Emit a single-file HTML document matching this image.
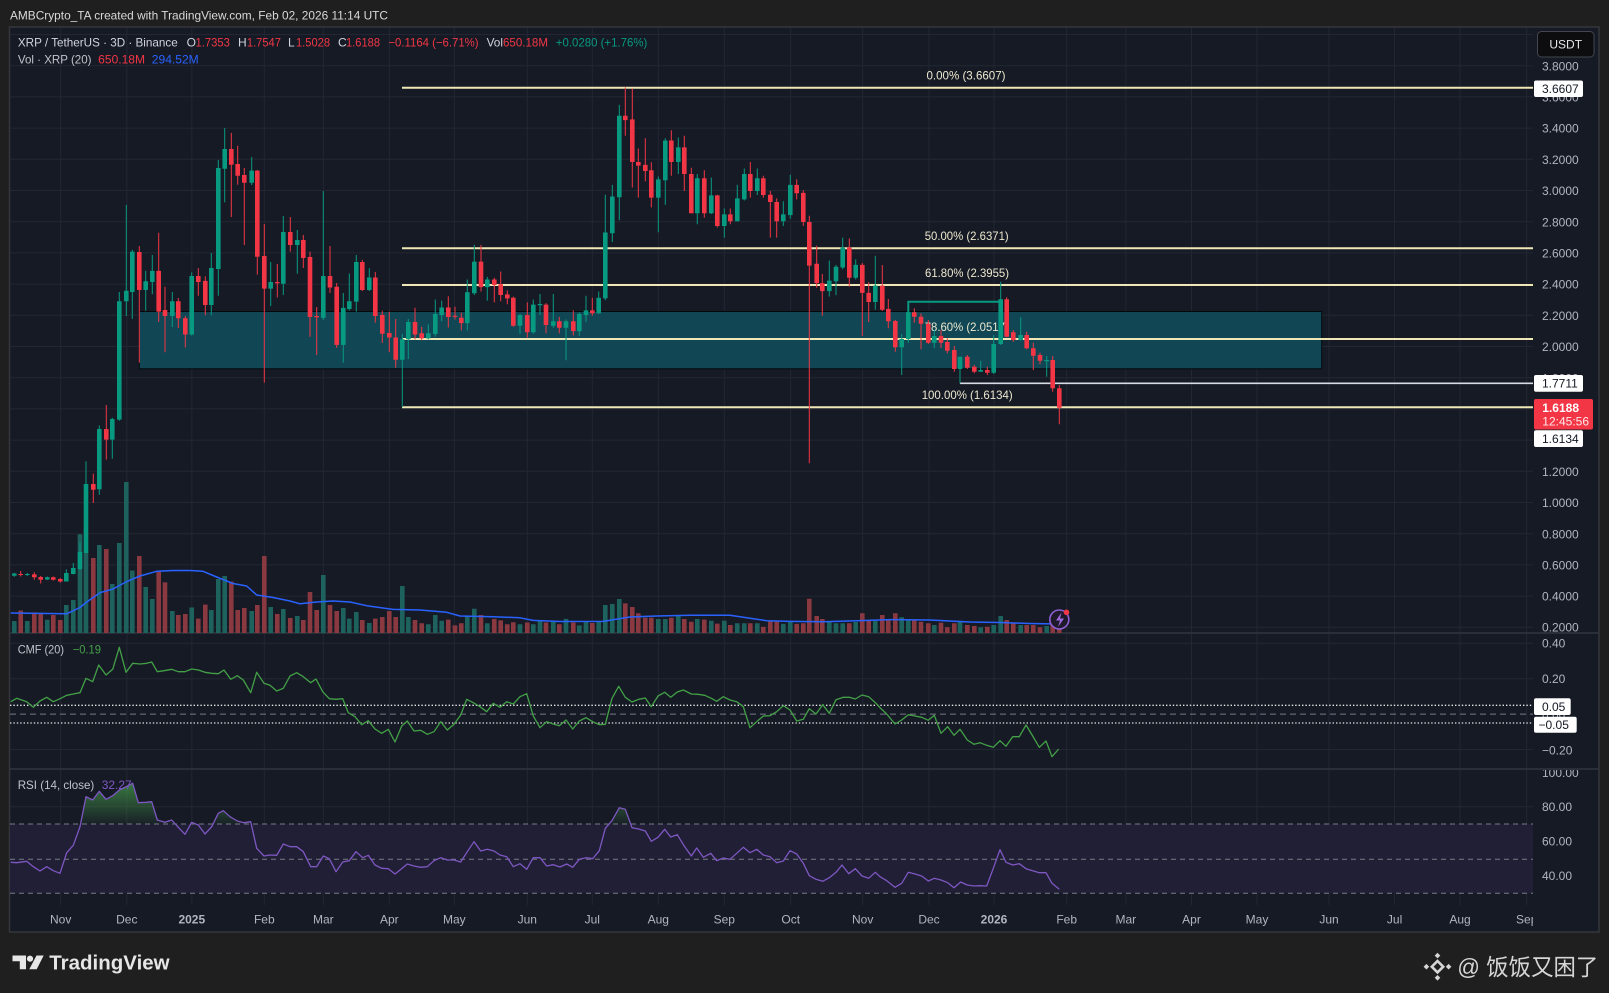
<!DOCTYPE html>
<html><head><meta charset="utf-8"><style>html,body{margin:0;padding:0;background:#1f1f1f;}svg{display:block;}</style></head>
<body>
<svg width="1609" height="993" viewBox="0 0 1609 993" xmlns="http://www.w3.org/2000/svg" font-family="'Liberation Sans', sans-serif">
<defs>
<clipPath id="plot"><rect x="10" y="28" width="1523" height="877"/></clipPath>
<clipPath id="rsiTop"><rect x="10" y="769" width="1523" height="55"/></clipPath>
<clipPath id="xax"><rect x="10" y="905" width="1523" height="27"/></clipPath>
<clipPath id="rsiAx"><rect x="1534" y="770" width="70" height="135"/></clipPath>
<linearGradient id="rsiG" gradientUnits="userSpaceOnUse" x1="0" y1="775" x2="0" y2="824">
<stop offset="0" stop-color="#4caf50" stop-opacity="0.75"/><stop offset="1" stop-color="#4caf50" stop-opacity="0.05"/></linearGradient>
</defs>
<rect width="1609" height="993" fill="#1f1f1f"/>
<text x="10" y="19.3" font-size="12" fill="#d9d9d9" textLength="378" lengthAdjust="spacingAndGlyphs">AMBCrypto_TA created with TradingView.com, Feb 02, 2026 11:14 UTC</text>
<rect x="9.5" y="27" width="1589.5" height="905" fill="#161a25" stroke="#34363c" stroke-width="1.5"/>

<!-- grid -->
<g stroke="#232733" stroke-width="1">
<path d="M10 34.5H1533M10 65.7H1533M10 96.9H1533M10 128.1H1533M10 159.3H1533M10 190.5H1533M10 221.7H1533M10 252.9H1533M10 284.1H1533M10 315.3H1533M10 346.5H1533M10 377.7H1533M10 408.9H1533M10 440.1H1533M10 471.3H1533M10 502.5H1533M10 533.7H1533M10 564.9H1533M10 596.1H1533M10 627.3H1533"/>
<path d="M10 643.3H1533M10 678.7H1533M10 749.5H1533M10 806.8H1533M10 841.2H1533M10 875.8H1533"/>
<path d="M60.7 28V905M126.8 28V905M191.8 28V905M264.3 28V905M323.3 28V905M389.3 28V905M454.3 28V905M527.3 28V905M592.3 28V905M658.3 28V905M724.3 28V905M790.7 28V905M862.7 28V905M929 28V905M994 28V905M1066.7 28V905M1125.8 28V905M1191.5 28V905M1257 28V905M1329 28V905M1394.6 28V905M1460 28V905M1526.7 28V905"/>
</g>
<!-- pane separators -->
<path d="M10 633H1598M10 769H1598" stroke="#30343f" stroke-width="1.5"/>

<!-- RSI band -->
<rect x="10" y="824" width="1523" height="69.3" fill="#201f35"/>
<g stroke="#787b86" stroke-width="1" stroke-dasharray="5 4">
<path d="M10 824H1533M10 859.3H1533M10 893.3H1533"/>
</g>
<!-- CMF levels -->
<path d="M10 714.1H1533" stroke="#787b86" stroke-width="1" stroke-dasharray="6 4"/>
<path d="M10 705.3H1533M10 723H1533" stroke="#e6e6e6" stroke-width="1.3" stroke-dasharray="1.4 2"/>

<g clip-path="url(#plot)">
<!-- zone box -->
<rect x="139.3" y="311.5" width="1182.4" height="57.3" fill="#114755" stroke="#05090c" stroke-width="1"/>
<!-- fib lines -->
<g stroke="#efe7b5" stroke-width="2">
<path d="M402 87.7H1533M402 248.2H1533M402 285H1533M402 339H1533M402 407.2H1533"/>
</g>
<path d="M960 383.3H1533" stroke="#d8dce4" stroke-width="1.6"/>
<path d="M960 383.3V370" stroke="#d8dce4" stroke-width="1"/>
<g font-size="12" fill="#ece8cf" text-anchor="middle">
<text x="966" y="79.3" textLength="79" lengthAdjust="spacingAndGlyphs">0.00% (3.6607)</text>
<text x="966.7" y="240" textLength="84" lengthAdjust="spacingAndGlyphs">50.00% (2.6371)</text>
<text x="967" y="277" textLength="84" lengthAdjust="spacingAndGlyphs">61.80% (2.3955)</text>
<text x="966.7" y="331" textLength="84" lengthAdjust="spacingAndGlyphs">78.60% (2.0517)</text>
<text x="967.2" y="399" textLength="91" lengthAdjust="spacingAndGlyphs">100.00% (1.6134)</text>
</g>
<polyline points="908.3,312.7 908.3,301.7 1000.7,301.7" fill="none" stroke="#089981" stroke-width="2"/>

<!-- volume -->
<path fill="none" stroke="#1e625e" stroke-width="4.6" d="M14.3 621V633M27.3 621V633M47.3 619.7V633M66.3 605V633M73.3 600V633M80 534.3V633M86 553V633M99.3 545V633M112.3 584V633M119.3 543V633M126.3 482V633M132.3 570.5V633M145.7 587V633M152.3 599V633M172.3 611V633M191.7 607.5V633M211.3 610V633M218.3 579V633M224.7 576V633M251.7 611V633M270.7 607V633M283.3 609V633M297.3 616V633M323.3 575V633M343.3 608V633M349.3 618.6V633M356.3 612V633M369.3 623V633M402.3 586V633M408.3 617V633M428.3 624.3V633M435.3 615V633M441.7 620.8V633M467.3 616V633M474.3 608.7V633M487.3 623.2V633M520 624.3V633M533.3 624.3V633M540 620.8V633M553.3 620.8V633M566 618.9V633M579.3 625.4V633M586 621.5V633M598.7 622V633M605.3 605V633M612.3 604V633M619.3 599V633M658.3 619V633M665.3 619V633M678.3 616V633M697.3 619V633M711.3 620.7V633M724.3 620.7V633M737.3 623.2V633M744.3 623.2V633M757.3 623.2V633M783.3 623.9V633M790.3 621.4V633M829.3 621.4V633M836 623.2V633M842.7 623.2V633M855.7 622V633M875.3 621V633M901.7 617.3V633M908.3 620V633M934.3 625V633M960 621.7V633M980.7 627.3V633M993.7 625V633M1000.7 616V633M1020.7 625V633M1046.7 626V633"/>
<path fill="none" stroke="#8a3940" stroke-width="4.6" d="M20.7 610.5V633M34.3 612.4V633M40.7 613.8V633M53.3 615V633M60.3 620V633M93.3 558V633M106.3 549V633M139.3 556V633M158.7 570.5V633M165 582.4V633M178.3 615V633M185.3 614V633M198.3 618.6V633M205.3 604.6V633M231.3 581.6V633M237.7 610V633M244.3 608V633M257.3 605V633M264.3 556V633M277.3 614V633M290.3 618V633M303.3 620V633M310 592V633M316.7 610V633M330 605V633M336.7 611V633M362.3 620V633M375.3 618.6V633M382.3 617V633M389.3 611V633M395.7 617V633M415 620V633M421.7 623.2V633M448.3 619.6V633M455 625.4V633M461.3 623.2V633M481 615V633M494.3 618.9V633M500.7 620.4V633M507.3 624.3V633M513.3 622.2V633M527.3 622.5V633M546 622.5V633M559.3 624.3V633M573.3 622.5V633M592.3 623V633M625.3 603.4V633M632.3 607V633M638.3 613.3V633M645.3 617.8V633M651.3 617.8V633M671.3 617.8V633M684.3 619V633M691.3 621.8V633M704.3 619.6V633M717.3 623.6V633M730.3 625V633M750.3 623.2V633M763.3 626.9V633M770.3 621.4V633M776.7 621.4V633M796.7 623.9V633M803.3 623.2V633M809.3 598.8V633M816.7 616V633M822.3 619V633M849.3 623.2V633M862.3 613.3V633M868.7 620.5V633M882.3 615V633M888.3 620V633M895.3 613.3V633M914.3 620V633M921 621.7V633M928.3 623.3V633M941 622.7V633M947.3 627.3V633M954.3 623.3V633M967.3 625V633M974.3 626V633M987.3 626.7V633M1006.7 620V633M1013.3 623.3V633M1026.7 625V633M1033.3 625V633M1040 627.3V633M1052.7 624.3V633M1059.3 622.7V633"/>
<polyline fill="none" stroke="#2962ff" stroke-width="1.5" stroke-linejoin="round" points="10.7,613 66.7,613.8 80,607.5 86.7,602 100,592.7 113,589 126.7,581.6 140,576 156.7,571.3 173,570.5 190,570.5 203,571.3 216.7,577 233,583.5 246.7,586 256.7,595 273,597.5 290,601 300,603.8 316.7,602 333,601 350,602 366.7,605.7 393,609.4 420,610 446.7,612.3 460,616 493,616.7 520,617.8 533,620.4 560,621.5 603,621.4 630,617 656.7,616 690,615.3 730,615.3 746.7,617.8 766.7,620.7 790,621.4 823.3,621.8 856.7,620.7 890,619.6 930,620 970,622 1000,622.5 1030,623.5 1059,624"/>

<!-- candles -->
<path fill="none" stroke="#089981" stroke-width="1" d="M14.3 572.8V576.8M27.3 573V576M47.3 576.5V580M66.3 569.4V581.5M73.3 563V574.4M80 542.8V569.8M86 461.4V553M99.3 425.5V494.7M112.3 417.7V458.8M119.3 292V420.7M126.3 205V316M132.3 249.8V319M145.7 270.9V310.8M152.3 255V294.2M172.3 292V327M191.7 272.4V335.6M211.3 253V315.3M218.3 160V295.7M224.7 128V202.4M251.7 157V185M270.7 262V306M283.3 216V295M297.3 230V273.8M323.3 191V320M343.3 293V362.6M349.3 273.5V310.5M356.3 255V311.6M369.3 268.3V291M402.3 333.8V407M408.3 319V359M428.3 324.2V339.5M435.3 299.5V336.6M441.7 300.6V321.3M467.3 279.5V330.4M474.3 244.9V295M487.3 276.9V300.6M520 314V333.7M533.3 299.5V333.7M540 294V315M553.3 294V327.8M566 319.5V360.2M579.3 312.2V335.9M586 295.8V322M598.7 291.5V314M605.3 194.7V300.2M612.3 184.9V242M619.3 104.9V220.2M658.3 176.5V232.2M665.3 138.3V204.9M678.3 137.5V174M697.3 174V224.2M711.3 177.5V214M724.3 208.5V237.6M737.3 184.9V221.3M744.3 168.5V200.5M757.3 168.5V195M783.3 201.3V226M790.3 174.7V218.7M829.3 260.6V296.6M836 264.9V295.2M842.7 237.6V269.3M855.7 259.4V279.5M875.3 255.8V309.7M901.7 334V375M908.3 302.3V342.7M934.3 330V348M960 356.7V383.3M980.7 360.7V371.7M993.7 335V374M1000.7 281.7V345M1020.7 317.3V340.7M1046.7 356V376.7"/>
<path fill="none" stroke="#089981" stroke-width="4.6" d="M14.3 573.5V575.7M27.3 574V575M47.3 577.2V579.5M66.3 573V581.5M73.3 568V574M80 552V569M86 484V553M99.3 429V489.2M112.3 419V439.6M119.3 301.2V419.6M126.3 290.8V301.2M132.3 251.6V292M145.7 281.2V290M152.3 270.9V282M172.3 301.2V316M191.7 276V334.5M211.3 268V305M218.3 168V269M224.7 149V168.8M251.7 170.6V182.8M270.7 282V288.6M283.3 232V283.8M297.3 240V245M323.3 276V317.9M343.3 307.9V344.9M349.3 301.2V309M356.3 262V301.6M369.3 277.5V290M402.3 339.3V359.7M408.3 322V339.3M428.3 333.3V338.4M435.3 314V334M441.7 307.5V315.1M467.3 292.2V323.1M474.3 261.6V293.3M487.3 279.5V287.1M520 315.1V325.7M533.3 304.6V332.2M540 304V305.2M553.3 321.3V325.7M566 321.3V327.8M579.3 314V331.1M586 310.4V315.1M598.7 297.7V313.3M605.3 232.5V298.4M612.3 196.5V233.3M619.3 115.8V197.3M658.3 179.4V197.6M665.3 140.5V180.2M678.3 147.4V162M697.3 178.3V213.3M711.3 195.4V213.3M724.3 214.4V226M737.3 198.4V221.3M744.3 174V199.4M757.3 178.3V191M783.3 214.4V221.3M790.3 184.9V215.1M829.3 280.6V291.1M836 266.8V281.3M842.7 247.5V267.5M855.7 264.9V277.7M875.3 285.6V302M901.7 339V347.3M908.3 312.3V339M934.3 336V342.7M960 356.7V369M980.7 370V371.7M993.7 344V372.7M1000.7 299.3V344M1020.7 335V340M1046.7 360V361.2"/>
<path fill="none" stroke="#f23645" stroke-width="1" d="M20.7 571V576.5M34.3 572.2V579.8M40.7 576V583.5M53.3 576.5V580.5M60.3 578V582.6M93.3 473.6V503M106.3 405V459.6M139.3 246V362.6M158.7 232.8V322M165 286.8V352.3M178.3 298V328M185.3 316V347.5M198.3 268V295.7M205.3 276.4V315.3M231.3 132.9V217M237.7 145.8V184.7M244.3 168V245M257.3 170V274.6M264.3 224V382.6M277.3 264V297.5M290.3 217V251.6M303.3 235V268M310 251.6V336.7M316.7 307V355M330 246V293M336.7 283V347.8M362.3 259.8V291M375.3 272V322.7M382.3 310.8V343M389.3 311.6V352.3M395.7 319V367.8M415 307.8V339.5M421.7 326.8V340.2M448.3 296.2V327.5M455 306.8V319.5M461.3 312.6V330.4M481 244.9V291.5M494.3 277.7V302.4M500.7 271.5V301.2M507.3 290.4V304.3M513.3 296.6V326.8M527.3 302.4V337.7M546 303.1V333.3M559.3 316.9V333.3M573.3 310.4V335.5M592.3 297.7V315.8M625.3 87.4V135.8M632.3 88.5V187.5M638.3 148.5V197.6M645.3 138.3V181.3M651.3 162.3V207.4M671.3 130.3V175.8M684.3 135.8V191M691.3 167.8V213.3M704.3 170.3V217.6M717.3 194.7V227.5M730.3 208.5V224.2M750.3 162V197.6M763.3 175.8V197.6M770.3 191V237.6M776.7 198.4V237.6M796.7 179.4V199.4M803.3 190.3V226M809.3 215.8V463.2M816.7 245.6V287.8M822.3 274V315.8M849.3 238.4V286.7M862.3 263.1V335.9M868.7 282V322M882.3 265V311M888.3 299V328.3M895.3 320V351.7M914.3 308.3V322.7M921 313.3V349.3M928.3 320V344M941 330V348M947.3 338.3V353.3M954.3 346V371.7M967.3 355V369M974.3 365V373.3M987.3 366.7V375M1006.7 297.3V337.3M1013.3 330V341.7M1026.7 331.7V349.3M1033.3 342.7V370M1040 352.7V364.3M1052.7 356V391.7M1059.3 385V424.3"/>
<path fill="none" stroke="#f23645" stroke-width="4.6" d="M20.7 574V575M34.3 574.4V577.2M40.7 577V579.7M53.3 577.2V579.8M60.3 579V581.5M93.3 484V489.7M106.3 429V439.6M139.3 252V290M158.7 270.9V311.6M165 310V316M178.3 301.2V318.2M185.3 318.2V334.5M198.3 276V282M205.3 280.9V305M231.3 149V164.7M237.7 164V175.8M244.3 175V182.8M257.3 170.6V256.8M264.3 256V288.6M277.3 282V283.2M290.3 232V245M303.3 240V258M310 257V317M316.7 316V317.2M330 276V287.5M336.7 286.8V344.9M362.3 262V290M375.3 277.5V316M382.3 315V333.8M389.3 333V337.5M395.7 337.5V359.7M415 322V334.5M421.7 333.3V338.4M448.3 307.5V317M455 315.7V316.9M461.3 317.7V323.1M481 261.6V287.1M494.3 279.5V285M500.7 284.2V295M507.3 294.4V298.4M513.3 297.7V325.7M527.3 315.1V332.2M546 304.6V325M559.3 321.3V327.8M573.3 321.3V331.1M592.3 310.4V313.3M625.3 115.8V120.1M632.3 119.4V162M638.3 162V165.6M645.3 164.9V171M651.3 170.3V197.6M671.3 140.5V162M684.3 147.4V174M691.3 174V213.3M704.3 178.3V213.3M717.3 195.4V226M730.3 214.4V221.3M750.3 174V191M763.3 178.3V195M770.3 194.7V202M776.7 202V221.3M796.7 184.9V193.3M803.3 192.9V222M809.3 222V265.6M816.7 263.8V283.1M822.3 283.1V291.1M849.3 247.5V277.7M862.3 264.9V292.9M868.7 292.9V302M882.3 285.6V309.7M888.3 308.9V321.3M895.3 321V347.3M914.3 312.3V316.7M921 316.7V323.7M928.3 323.7V342.7M941 336V342.7M947.3 342V350.7M954.3 350V369M967.3 356.7V367.7M974.3 366.7V371.7M987.3 370V372.7M1006.7 299.3V336.7M1013.3 332.3V340M1026.7 335V348.3M1033.3 348.3V355.7M1040 355V360.7M1052.7 360V388.3M1059.3 388.3V407.7"/>

<!-- CMF -->
<polyline fill="none" stroke="#43a047" stroke-width="1.3" stroke-linejoin="round" points="10.7,701.7 16.7,698.3 26.7,701.7 33.3,707.3 40,701 46.7,697.3 53.3,701.7 60,698.7 66.7,695.3 73.3,694 80,692.7 86,678.3 92.7,681.7 98.7,665 106,675 112.7,669.3 119.3,647.3 126,672.3 132.7,663.3 140,664 146.7,663.3 151.7,662 157.3,671.7 164,670.7 171.7,669.3 178.3,671.7 185,671.7 191.7,669 198.3,670 205,672.3 211.7,673.3 218.3,673.7 224,670 230.7,679.3 237.3,675.7 243.3,680 250.7,692.7 256.7,672.3 264,683.3 270,685.3 276.7,691 283.3,688.3 290,676 296.7,672.7 303.3,676.7 310.7,682.7 316,679 322.7,691.7 329.3,698.7 336,699.3 342.7,698.7 348.3,712.7 355,716.7 361.7,724.7 368.3,720.7 375,729 381.7,733.3 388.3,729.3 395,742 401.7,726 407.3,721 414,731 420.7,730.3 427.3,734.3 434,731.7 440.7,721.7 447.3,730 454,724.3 460.7,715 466.7,699.3 473.3,702.7 480,706.7 486.7,711.7 493.3,703.3 500,707.3 506.7,701.7 513.3,704 520,696.7 526.7,693.7 533.3,716 540,727.7 546.7,721.7 553.3,724 559.3,725.7 566,720 572.7,729 579.3,721 586,717.7 592.7,721.7 599.3,724.7 605.3,724.3 612,698.3 618.7,686.3 625.3,697.3 632,702 638.7,699.3 645.3,698 651.3,706.7 658,696 664.7,692.3 670.7,697.3 677.3,692 683.3,690 691.3,694 698,694.3 704.7,695.3 711.3,698.3 716.7,701.3 723.3,696.7 730,700 736.7,701.7 743.3,706.7 750,727.7 756.7,721.7 763.3,716 770,715.7 776.7,711.7 783.3,705.7 790,710 796.7,721 803.3,719.3 809.3,708.7 816,714 822.7,704.7 829.3,713.3 836,699.7 843.3,697.3 849.3,697.3 855.3,699 862,695 868.7,696.7 876,703.3 880,707.7 886.7,714 895,724 901.7,720 908.3,714.7 915,716 921.7,717.3 928.3,720.3 934.3,715.3 941,733.3 947.7,726.7 954,735.3 960,729.3 967.3,740 974,744.3 980,742.7 986.7,745.3 993.3,747.3 1000,740.7 1006,746.3 1012.7,736.7 1019.3,736.7 1026,725 1032.7,736 1039.3,747.3 1046,741 1052,756.7 1058.7,749"/>

<!-- RSI fill -->
<g clip-path="url(#rsiTop)">
<polygon fill="url(#rsiG)" points="10.7,862.3 16.7,862.7 26.7,861.3 33.3,866.7 40,871 46.7,866.7 53.3,870.7 60,873.3 66.7,852.7 73.3,845.3 80,826.7 86,796.7 92.7,800 99.3,791.3 106,799.3 112.7,795.7 119.3,790 126,786.7 132.7,783.3 138.3,802.7 146,802.3 151.7,801.7 157.3,820 165,822.3 171.7,820 178.3,827.3 185,834.3 191.7,822.3 198.3,825 205,834 211.7,826.7 218.3,813.3 223.3,810.7 230,816.7 237.3,821 244,822.7 250.7,821.7 256.7,848.3 600,850 605.3,828.3 612,820.7 619.3,807.7 625.3,809.3 632,827.7 640,830 640,824 10.7,824"/>
</g>
<!-- RSI -->
<polyline fill="none" stroke="#7e57c2" stroke-width="1.3" stroke-linejoin="round" points="10.7,862.3 16.7,862.7 26.7,861.3 33.3,866.7 40,871 46.7,866.7 53.3,870.7 60,873.3 66.7,852.7 73.3,845.3 80,826.7 86,796.7 92.7,800 99.3,791.3 106,799.3 112.7,795.7 119.3,790 126,786.7 132.7,783.3 138.3,802.7 146,802.3 151.7,801.7 157.3,820 165,822.3 171.7,820 178.3,827.3 185,834.3 191.7,822.3 198.3,825 205,834 211.7,826.7 218.3,813.3 223.3,810.7 230,816.7 237.3,821 244,822.7 250.7,821.7 256.7,848.3 264,856 270,855 276.7,855.3 283.3,844 290,846.7 296.7,846.7 303.3,851.7 310.7,866.7 316.7,866.7 323.3,856 329.3,858.7 336,871.7 342.7,862 349.3,860.7 356,851.7 362.7,857.7 368.3,855.3 375,865 381.7,868.3 388.3,868.7 395,874 400,870 407.3,864 414,866 420.7,867.3 427.3,866.7 434,860.7 440.7,857.7 447.3,860 454,860 460.7,862 467.3,851.7 474,841.7 480.7,851 487.3,849.3 494,851 500,855 506.7,856.7 513.3,866.7 520,863.7 526.7,869.3 533.3,857.7 540,857.7 546.7,866 553.3,864.7 560,867 566.7,864 572.7,867.3 579.3,859.3 586,857.7 592.7,858.7 599.3,850.7 605.3,828.3 612,820.7 619.3,807.7 625.3,809.3 632,827.7 638.7,829 645.3,831 651.3,841.3 658,837.3 664.7,829.3 670.7,837 677.3,834.7 684,845.7 691.3,856 696.7,848 703.3,857.3 710.7,853.3 716.7,860.7 723.3,858 730,859.3 736.7,853.3 743.3,847.3 750,852.7 756.7,849.3 763.3,855 770,856.7 776.7,862.7 783.3,861 790,850.7 796.7,854 803.3,863.3 809.3,875.7 816,879.3 822.7,881.3 829.3,877.7 836,872.3 842,865 848.7,873.7 855.3,868.7 862,876 868.7,878.3 875.3,872.3 880,876.7 886.7,880.7 895,887.3 901.7,883.3 908.3,872.3 915,874 921.7,876 928.3,881 934.3,878.3 941,880 947.7,882.7 954,887.7 960.7,882 967.3,885 974,886 980,885.7 986.7,886 993.3,868.3 1000,849.7 1006,862.3 1012.7,865 1019.3,863.7 1026,868.7 1032.7,870.7 1039.3,872.7 1046,872.7 1052,883.3 1059.3,889.3"/>

<!-- lightning icon -->
<circle cx="1059.3" cy="619.5" r="9.5" fill="#1e1a2c" stroke="#8e5fd6" stroke-width="1.6"/>
<path d="M1061.5 612.5l-5.5 8h4l-2 6.5l6-8.5h-4z" fill="#9c6ade"/>
<circle cx="1066.5" cy="612.3" r="2.8" fill="#f23645"/>
</g>

<!-- legend -->
<g font-size="12">
<text x="17.9" y="46.3" fill="#d1d4dc" textLength="159.8" lengthAdjust="spacingAndGlyphs">XRP / TetherUS · 3D · Binance</text>
<text x="186.6" y="46.3" fill="#d1d4dc">O</text><text x="195.5" y="46.3" fill="#f23645" textLength="34.4" lengthAdjust="spacingAndGlyphs">1.7353</text>
<text x="238" y="46.3" fill="#d1d4dc">H</text><text x="246.9" y="46.3" fill="#f23645" textLength="34" lengthAdjust="spacingAndGlyphs">1.7547</text>
<text x="288" y="46.3" fill="#d1d4dc">L</text><text x="296" y="46.3" fill="#f23645" textLength="34" lengthAdjust="spacingAndGlyphs">1.5028</text>
<text x="338" y="46.3" fill="#d1d4dc">C</text><text x="346" y="46.3" fill="#f23645" textLength="34" lengthAdjust="spacingAndGlyphs">1.6188</text>
<text x="388.4" y="46.3" fill="#f23645" textLength="90.2" lengthAdjust="spacingAndGlyphs">−0.1164 (−6.71%)</text>
<text x="486.6" y="46.3" fill="#d1d4dc" textLength="16.4" lengthAdjust="spacingAndGlyphs">Vol</text><text x="503" y="46.3" fill="#f23645" textLength="45" lengthAdjust="spacingAndGlyphs">650.18M</text>
<text x="555.8" y="46.3" fill="#089981" textLength="91.5" lengthAdjust="spacingAndGlyphs">+0.0280 (+1.76%)</text>
<text x="17.9" y="63.3" fill="#c0c3ca" textLength="73.6" lengthAdjust="spacingAndGlyphs">Vol · XRP (20)</text>
<text x="98.2" y="63.3" fill="#f23645" textLength="46.8" lengthAdjust="spacingAndGlyphs">650.18M</text>
<text x="151.8" y="63.3" fill="#2962ff" textLength="46.9" lengthAdjust="spacingAndGlyphs">294.52M</text>
<text x="17.7" y="653.6" fill="#c0c3ca" textLength="46.3" lengthAdjust="spacingAndGlyphs">CMF (20)</text>
<text x="72.7" y="653.6" fill="#43a047" textLength="28.3" lengthAdjust="spacingAndGlyphs">−0.19</text>
<text x="17.7" y="789" fill="#c0c3ca" textLength="76.6" lengthAdjust="spacingAndGlyphs">RSI (14, close)</text>
<text x="101.7" y="789" fill="#7e57c2" textLength="30" lengthAdjust="spacingAndGlyphs">32.27</text>
</g>

<!-- price axis -->
<g font-size="12" fill="#b2b5be">
<text x="1542" y="70.3">3.8000</text><text x="1542" y="101.5">3.6000</text><text x="1542" y="132.7">3.4000</text><text x="1542" y="163.9">3.2000</text><text x="1542" y="195.1">3.0000</text><text x="1542" y="226.3">2.8000</text><text x="1542" y="257.5">2.6000</text><text x="1542" y="288.7">2.4000</text><text x="1542" y="319.9">2.2000</text><text x="1542" y="351.1">2.0000</text><text x="1542" y="382.3">1.8000</text><text x="1542" y="413.5">1.6000</text><text x="1542" y="444.7">1.4000</text><text x="1542" y="475.9">1.2000</text><text x="1542" y="507.1">1.0000</text><text x="1542" y="538.3">0.8000</text><text x="1542" y="569.5">0.6000</text><text x="1542" y="600.7">0.4000</text><text x="1542" y="631.7">0.2000</text>
<text x="1542" y="647.6">0.40</text><text x="1542" y="683">0.20</text><text x="1542" y="718.4">0.00</text><text x="1542" y="754.3">−0.20</text>
<g clip-path="url(#rsiAx)"><text x="1542" y="777">100.00</text><text x="1542" y="811">80.00</text><text x="1542" y="845.5">60.00</text><text x="1542" y="880.1">40.00</text></g>
</g>
<!-- axis label boxes -->
<rect x="1534" y="80.5" width="49" height="16.5" rx="2" fill="#ffffff"/>
<text x="1542" y="93" font-size="12" fill="#131722">3.6607</text>
<rect x="1534" y="375" width="49" height="16.7" rx="2" fill="#ffffff"/>
<text x="1542" y="387.6" font-size="12" fill="#131722">1.7711</text>
<rect x="1534" y="399" width="59" height="30.5" rx="2" fill="#f23645"/>
<text x="1542.3" y="412" font-size="12" font-weight="bold" fill="#ffffff">1.6188</text>
<text x="1542.3" y="425.3" font-size="12" fill="#ffe8ea">12:45:56</text>
<rect x="1534" y="430.3" width="49" height="16.7" rx="2" fill="#ffffff"/>
<text x="1542" y="443" font-size="12" fill="#131722">1.6134</text>
<rect x="1534" y="698.3" width="36.7" height="16.7" rx="2" fill="#ffffff"/>
<text x="1542" y="711" font-size="12" fill="#131722">0.05</text>
<rect x="1534" y="716.7" width="42.7" height="16" rx="2" fill="#ffffff"/>
<text x="1538.5" y="729" font-size="12" fill="#131722">−0.05</text>
<!-- USDT button -->
<rect x="1537.5" y="31.5" width="56.5" height="25.5" rx="4" fill="#0d0d0f" stroke="#434651" stroke-width="1"/>
<text x="1565.7" y="48.5" font-size="12" fill="#e6e6e6" text-anchor="middle">USDT</text>

<!-- time axis -->
<g clip-path="url(#xax)" font-size="12" fill="#b2b5be" text-anchor="middle">
<text x="60.7" y="923.3">Nov</text><text x="126.8" y="923.3">Dec</text><text x="191.8" y="923.3" font-weight="bold">2025</text><text x="264.3" y="923.3">Feb</text><text x="323.3" y="923.3">Mar</text><text x="389.3" y="923.3">Apr</text><text x="454.3" y="923.3">May</text><text x="527.3" y="923.3">Jun</text><text x="592.3" y="923.3">Jul</text><text x="658.3" y="923.3">Aug</text><text x="724.3" y="923.3">Sep</text><text x="790.7" y="923.3">Oct</text><text x="862.7" y="923.3">Nov</text><text x="929" y="923.3">Dec</text><text x="994" y="923.3" font-weight="bold">2026</text><text x="1066.7" y="923.3">Feb</text><text x="1125.8" y="923.3">Mar</text><text x="1191.5" y="923.3">Apr</text><text x="1257" y="923.3">May</text><text x="1329" y="923.3">Jun</text><text x="1394.6" y="923.3">Jul</text><text x="1460" y="923.3">Aug</text><text x="1526.7" y="923.3">Sep</text>
</g>

<!-- TradingView logo -->
<g fill="#e6e6e6">
<path d="M12.5 955.5h13.5v13.8h-6.2v-8h-7.3z"/>
<circle cx="30" cy="958.7" r="3.1"/>
<path d="M36.5 955.5h7.2l-7 13.8h-7.4z"/>
<text x="49.3" y="969.5" font-size="20.5" font-weight="bold" textLength="120.3" lengthAdjust="spacingAndGlyphs">TradingView</text>
</g>

<!-- watermark -->
<g fill="#d6d6d6">
<polygon points="1437.5,961 1443.2,966.7 1437.5,972.4 1431.8,966.7" fill="none" stroke="#d6d6d6" stroke-width="2.6"/>
<polygon points="1437.5,952.8 1440.3,955.6 1437.5,958.4 1434.7,955.6"/>
<polygon points="1448.6,963.9 1451.4,966.7 1448.6,969.5 1445.8,966.7"/>
<polygon points="1437.5,975 1440.3,977.8 1437.5,980.6 1434.7,977.8"/>
<polygon points="1426.4,963.9 1429.2,966.7 1426.4,969.5 1423.6,966.7"/>
<text x="1457.3" y="975" font-size="23" font-family="'Liberation Sans', 'Noto Sans CJK SC', sans-serif" textLength="141" lengthAdjust="spacingAndGlyphs">@ 饭饭又困了</text>
</g>
</svg>
</body></html>
